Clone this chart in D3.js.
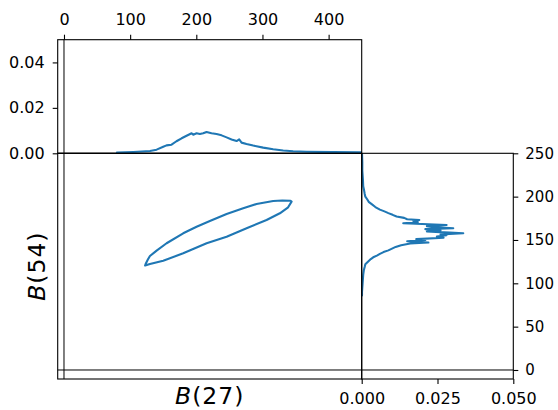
<!DOCTYPE html>
<html>
<head>
<meta charset="utf-8">
<script src="https://cdn.jsdelivr.net/npm/d3@7"></script>
<style>
  html, body { margin: 0; padding: 0; background: #fff; }
  svg { display: block; }
  text { font-family: "DejaVu Sans", sans-serif; fill: #000; }
</style>
</head>
<body>
<svg id="chart" width="558" height="410"></svg>
<script>
// Joint distribution of B(27) and B(54): contour in the centre, marginal densities on the sides.

// Contour outline (B(27), B(54)), traced as a closed loop
const contourB27 = [344, 342.4, 330, 316.2, 291, 270.9, 245.8, 220.5, 200.4, 180.2, 155.1, 140, 129.9, 126.4, 123.4, 122.6,
                    129.9, 150, 180.2, 215.6, 245.8, 276, 306.2, 326.3, 338.8, 344];
const contourB54 = [194.2, 195.2, 195.6, 195, 191.5, 186.6, 180, 171.9, 165.3, 157.7, 146.2, 137.7, 131.5, 126.9, 122.3, 120.5,
                    122.3, 126.1, 134.6, 146.2, 153.8, 163.5, 173.1, 180.8, 187.7, 194.2];

// Marginal density of B(27)
const topB27     = [80, 105, 130, 140, 150, 155, 162.6, 170, 177.8, 185.3, 192.9, 195.4, 200.4, 205.4, 210.4, 215.5, 223,
                    230.6, 238.2, 245.8, 253.3, 260.9, 264.8, 268.4, 275.9, 286, 301.1, 316.2, 331.3, 346.4, 366.6, 406.8, 447, 450];
const topDensity = [0.0003, 0.0006, 0.0010, 0.0016, 0.0029, 0.0035, 0.0038, 0.0053, 0.0066, 0.0077, 0.0088, 0.0082, 0.0088, 0.0085, 0.0088, 0.0094, 0.0088,
                    0.0085, 0.0079, 0.0070, 0.0061, 0.0054, 0.0061, 0.0047, 0.0041, 0.0034, 0.0025, 0.0018, 0.0012, 0.0009, 0.0007, 0.0005, 0.0004, 0.0004];

// Marginal density of B(54)
const rightB54     = [250, 240, 230, 220, 212, 207, 203, 200, 197, 194, 191, 188, 185, 183, 181, 179, 177, 175.5, 174, 173, 172, 170.5,
                      169.3, 168.5, 167.3, 166, 164.8, 163.5, 162.5, 161, 159.8, 158.5, 157.7, 156.5, 155.5, 154, 152.5, 151, 150,
                      148.5, 147, 146, 144, 142, 140, 138, 136, 134, 132, 130, 128, 126, 124, 122, 119, 115, 110, 105, 100, 95, 90, 86];
const rightDensity = [0.0001, 0.0002, 0.0002, 0.0004, 0.0005, 0.0008, 0.0010, 0.0012, 0.0018, 0.0023, 0.0034, 0.0045, 0.0060, 0.0075, 0.0088, 0.0102, 0.0115, 0.0140, 0.0150, 0.0190, 0.0170, 0.0185,
                      0.0137, 0.0200, 0.0280, 0.0215, 0.0235, 0.0302, 0.0210, 0.0260, 0.0215, 0.0290, 0.0335, 0.0260, 0.0280, 0.0248, 0.0270, 0.0180, 0.0210,
                      0.0150, 0.0220, 0.0160, 0.0130, 0.0112, 0.0100, 0.0088, 0.0072, 0.0060, 0.0050, 0.0038, 0.0030, 0.0024, 0.0018, 0.0012, 0.0010, 0.0007, 0.0005, 0.0004, 0.0003, 0.0002, 0.0001, 0.0001];

// Tick values and labels
const b27Ticks = [0, 100, 200, 300, 400];
const b54Ticks = [0, 50, 100, 150, 200, 250];
const topDensityTicks = [0, 0.02, 0.04];
const rightDensityTicks = [0, 0.025, 0.05];
const xLabel = "27";
const yLabel = "54";

// Panel geometry
const L = 57.7, R = 361.7, R2 = 513.3, T = 39.7, M = 153.3, B = 379;
const blue = "#1f77b4";

const svg = d3.select("#chart");

const x = d3.scaleLinear().domain([-9.5, 450]).range([L, R]);
const y = d3.scaleLinear().domain([-10.4, 250]).range([B, M]);
const yTop = d3.scaleLinear().domain([0, 0.05]).range([M, T]);
const xRight = d3.scaleLinear().domain([0, 0.05]).range([R, R2]);

const defs = svg.append("defs");
defs.append("clipPath").attr("id", "clip-top").append("rect").attr("x", L).attr("y", T).attr("width", R - L).attr("height", M - T);
defs.append("clipPath").attr("id", "clip-main").append("rect").attr("x", L).attr("y", M).attr("width", R - L).attr("height", B - M);
defs.append("clipPath").attr("id", "clip-right").append("rect").attr("x", R).attr("y", M).attr("width", R2 - R).attr("height", B - M);

// Zero reference lines
svg.append("line").attr("x1", x(0)).attr("x2", x(0)).attr("y1", T).attr("y2", B)
  .attr("stroke", "#000").attr("stroke-width", 1);
svg.append("line").attr("x1", L).attr("x2", R2).attr("y1", y(0)).attr("y2", y(0))
  .attr("stroke", "#000").attr("stroke-width", 1);
svg.append("line").attr("x1", L).attr("x2", R).attr("y1", yTop(0)).attr("y2", yTop(0))
  .attr("stroke", "#333").attr("stroke-width", 1.3);

// Curves
const lineStyle = sel => sel.attr("fill", "none").attr("stroke", blue).attr("stroke-width", 2.1)
  .attr("stroke-linejoin", "round").attr("stroke-linecap", "round");

const contour = d3.line().x(i => x(contourB27[i])).y(i => y(contourB54[i])).curve(d3.curveLinear);
svg.append("path").attr("clip-path", "url(#clip-main)")
  .attr("d", contour(d3.range(contourB27.length))).call(lineStyle);

const topLine = d3.line().x(i => x(topB27[i])).y(i => yTop(topDensity[i]));
svg.append("path").attr("clip-path", "url(#clip-top)")
  .attr("d", topLine(d3.range(topB27.length))).call(lineStyle);

const rightLine = d3.line().x(i => xRight(rightDensity[i])).y(i => y(rightB54[i]));
svg.append("path").attr("clip-path", "url(#clip-right)")
  .attr("d", rightLine(d3.range(rightB54.length))).call(lineStyle);

// Panel frames
const frame = (x0, y0, x1, y1) => svg.append("rect").attr("x", x0).attr("y", y0)
  .attr("width", x1 - x0).attr("height", y1 - y0)
  .attr("fill", "none").attr("stroke", "#000").attr("stroke-width", 1.1);
frame(L, T, R, M);
frame(L, M, R, B);
frame(R, M, R2, B);

// Axes
function styleAxis(g, size) {
  g.select(".domain").remove();
  g.selectAll(".tick line").attr("stroke", "#000").attr("stroke-width", 1.1);
  g.selectAll(".tick text").attr("font-family", "DejaVu Sans").attr("font-size", size).attr("fill", "#000");
}

svg.append("g").attr("transform", `translate(0,${T})`)
  .call(d3.axisTop(x).tickValues(b27Ticks).tickFormat(d3.format("d")).tickSize(5).tickPadding(9.5))
  .call(g => styleAxis(g, 16));

svg.append("g").attr("transform", `translate(${L},0)`)
  .call(d3.axisLeft(yTop).tickValues(topDensityTicks).tickFormat(d3.format(".2f")).tickSize(5).tickPadding(8))
  .call(g => styleAxis(g, 16));

svg.append("g").attr("transform", `translate(${R2},0)`)
  .call(d3.axisRight(y).tickValues(b54Ticks).tickFormat(d3.format("d")).tickSize(5).tickPadding(7))
  .call(g => styleAxis(g, 15));

svg.append("g").attr("transform", `translate(0,${B})`)
  .call(d3.axisBottom(xRight).tickValues(rightDensityTicks).tickFormat(d3.format(".3f")).tickSize(5).tickPadding(8.5))
  .call(g => styleAxis(g, 16));

// Axis titles
const xt = svg.append("text").attr("x", (L + R) / 2).attr("y", 403.5)
  .attr("text-anchor", "middle").attr("font-size", 23.5).attr("letter-spacing", 1);
xt.append("tspan").attr("font-style", "italic").text("B");
xt.append("tspan").text("(" + xLabel + ")");

const yt = svg.append("text").attr("transform", `translate(44.5,${(M + B) / 2}) rotate(-90)`)
  .attr("text-anchor", "middle").attr("font-size", 23.5).attr("letter-spacing", 1);
yt.append("tspan").attr("font-style", "italic").text("B");
yt.append("tspan").text("(" + yLabel + ")");
</script>
</body>
</html>
